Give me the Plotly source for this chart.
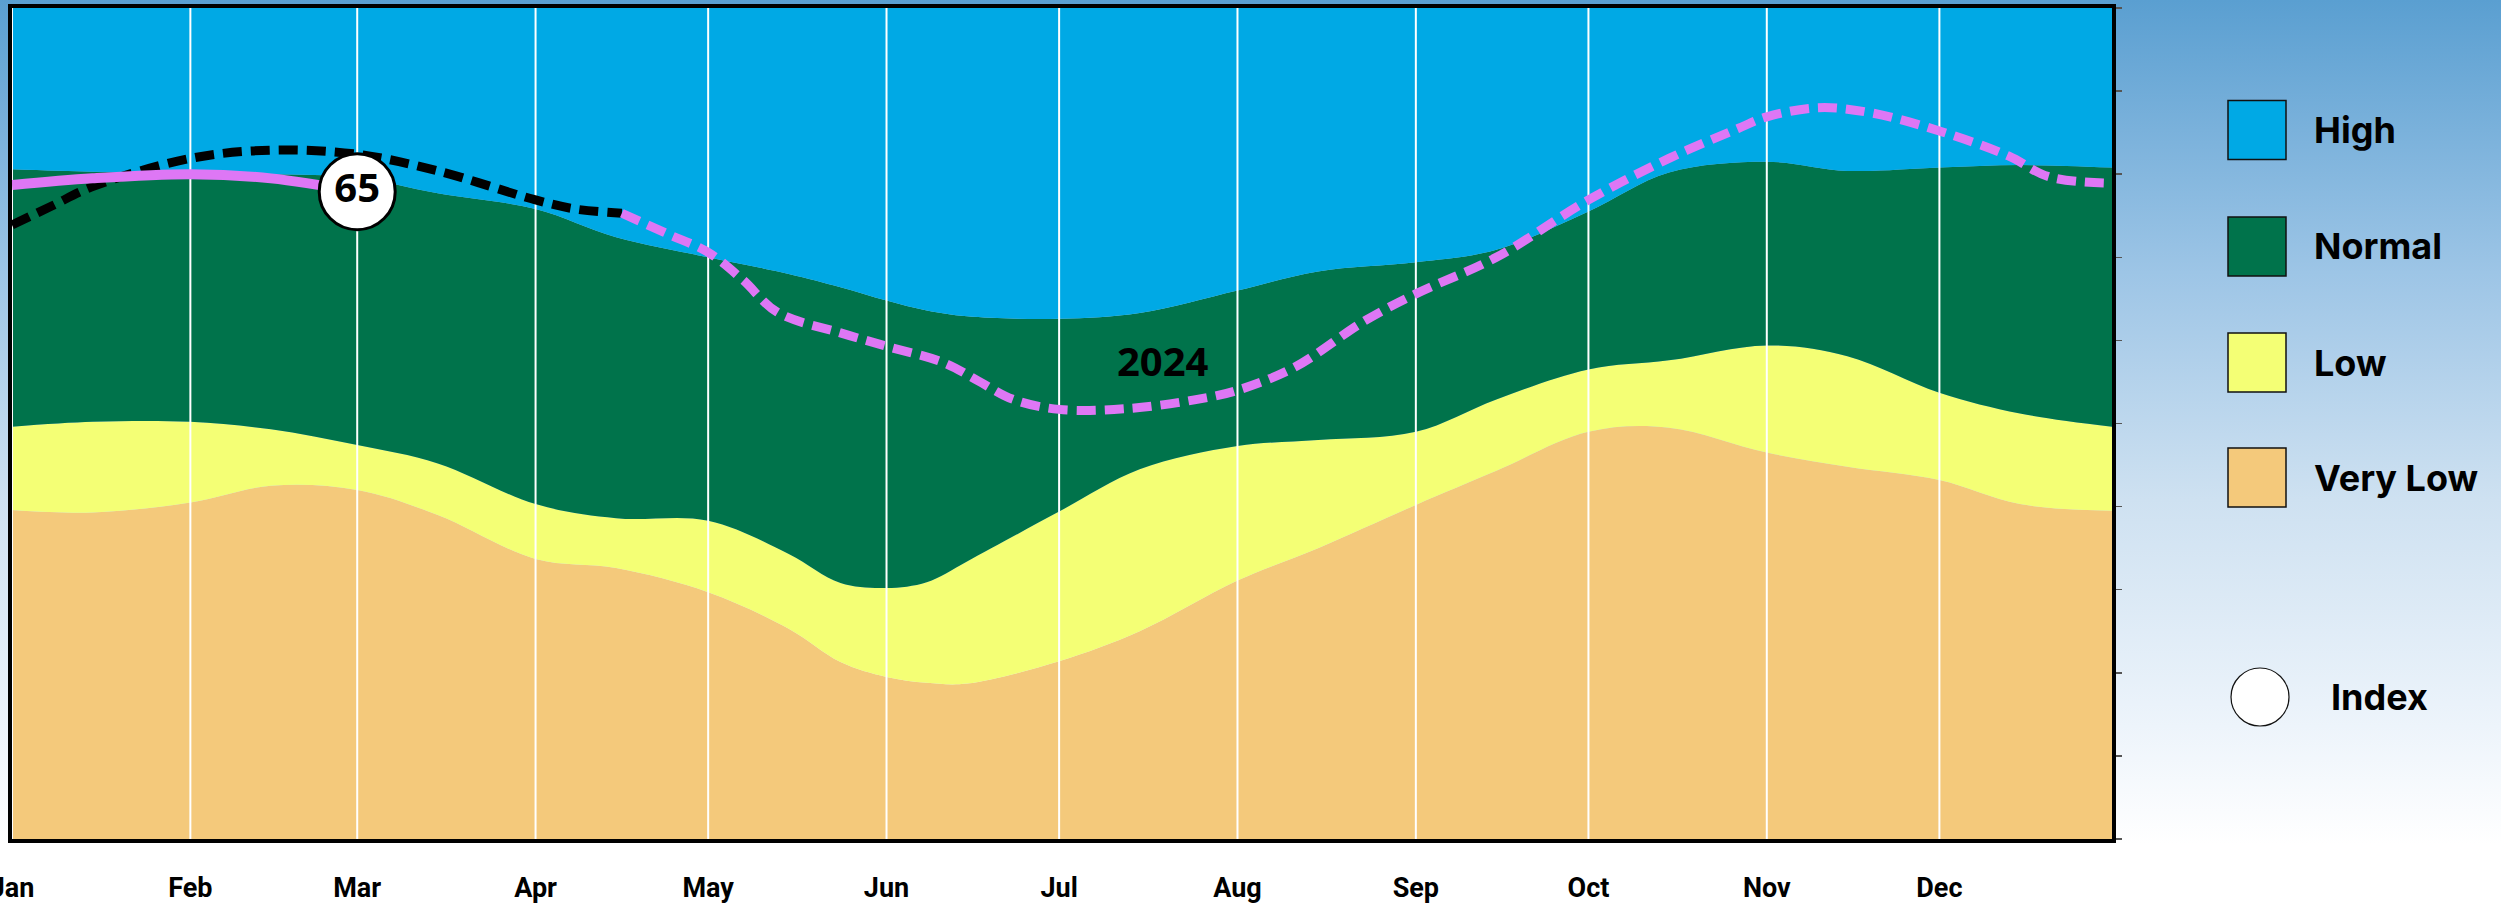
import base64
import plotly.graph_objects as go

# ---------------- data ----------------
band_dates = ["2024-01-01", "2024-01-15", "2024-02-01", "2024-02-15", "2024-03-01", "2024-03-15",
              "2024-04-01", "2024-04-15", "2024-05-01", "2024-05-15", "2024-05-24", "2024-06-01",
              "2024-06-08", "2024-06-15", "2024-07-01", "2024-07-15", "2024-08-01", "2024-08-15",
              "2024-09-01", "2024-09-15", "2024-10-01", "2024-10-15", "2024-11-01", "2024-11-15",
              "2024-12-01", "2024-12-15", "2024-12-31"]
very_low_top = [39.6, 39.3, 40.5, 42.5, 42.0, 39.0, 33.7, 32.6, 29.7, 25.3, 21.3, 19.5,
                18.8, 18.7, 21.4, 25.0, 31.1, 35.0, 40.2, 44.3, 49.0, 49.5, 46.5, 44.8,
                43.2, 40.3, 39.5]
low_top = [49.6, 50.2, 50.2, 49.3, 47.4, 45.2, 40.3, 38.6, 38.3, 34.3, 30.8, 30.2,
           30.9, 33.4, 39.4, 44.5, 47.3, 48.0, 49.0, 52.9, 56.5, 57.6, 59.4, 58.1,
           53.7, 51.2, 49.6]
normal_top = [80.6, 80.3, 80.1, 80.0, 79.6, 77.7, 75.8, 72.4, 70.0, 68.0, 66.4, 64.8,
              63.6, 62.9, 62.6, 63.3, 66.0, 68.3, 69.4, 70.9, 75.5, 80.2, 81.5, 80.4,
              80.8, 81.1, 80.8]
high_top = [100] * len(band_dates)

hist_dates = ["2024-01-01", "2024-01-08", "2024-01-15", "2024-02-01", "2024-02-15", "2024-03-01",
              "2024-03-15", "2024-04-01", "2024-04-08", "2024-04-16"]
hist_values = [73.9, 76.2, 78.5, 81.9, 82.9, 82.4, 80.4, 76.9, 75.8, 75.3]

actual_dates = ["2024-01-01", "2024-01-15", "2024-02-01", "2024-02-15", "2024-03-01"]
actual_values = [78.7, 79.5, 80.0, 79.5, 77.9]

fc_dates = ["2024-04-16", "2024-04-24", "2024-05-01", "2024-05-07", "2024-05-13", "2024-05-24",
            "2024-06-01", "2024-06-11", "2024-06-17", "2024-06-23", "2024-07-01", "2024-07-13",
            "2024-07-25", "2024-08-01", "2024-08-11", "2024-08-23", "2024-09-01", "2024-09-15",
            "2024-10-01", "2024-10-15", "2024-10-27", "2024-11-01", "2024-11-10", "2024-11-19",
            "2024-12-01", "2024-12-13", "2024-12-20", "2024-12-31"]
fc_values = [75.3, 72.8, 70.6, 67.3, 63.4, 60.9, 59.3, 57.3, 55.1, 52.9, 51.7, 51.8,
             52.9, 54.0, 56.8, 62.3, 65.6, 70.0, 76.9, 81.9, 85.5, 86.9, 88.0, 87.4,
             85.2, 82.2, 79.7, 78.9]

index_date = "2024-03-01"
index_value = 77.9
index_label = "65"

year_label = "2024"
year_label_date = "2024-07-19"
year_label_value = 57.6

month_starts = ["2024-01-01", "2024-02-01", "2024-03-01", "2024-04-01", "2024-05-01", "2024-06-01",
                "2024-07-01", "2024-08-01", "2024-09-01", "2024-10-01", "2024-11-01", "2024-12-01"]
month_names = ["Jan", "Feb", "Mar", "Apr", "May", "Jun", "Jul", "Aug", "Sep", "Oct", "Nov", "Dec"]

legend_labels = ["High", "Normal", "Low", "Very Low"]
index_legend_label = "Index"

# ---------------- styles ----------------
C_HIGH = "#00a9e5"
C_NORMAL = "#00734b"
C_LOW = "#f4ff75"
C_VLOW = "#f4c97b"
C_PINK = "#de77f5"
legend_colors = [C_HIGH, C_NORMAL, C_LOW, C_VLOW]

W, H = 2501, 908
ML, MR, MT, MB = 12, 389, 8, 69
PW = W - ML - MR
PH = H - MT - MB


def px_x(px):
    return (px - ML) / PW


def px_y(py):
    return (H - MB - py) / PH


fig = go.Figure()

# stacked bands
fig.add_trace(go.Scatter(x=band_dates, y=very_low_top, mode="lines", fill="tozeroy",
                         fillcolor=C_VLOW, line=dict(width=0, shape="spline", color=C_VLOW),
                         hoverinfo="skip", showlegend=False))
fig.add_trace(go.Scatter(x=band_dates, y=low_top, mode="lines", fill="tonexty",
                         fillcolor=C_LOW, line=dict(width=0, shape="spline", color=C_LOW),
                         hoverinfo="skip", showlegend=False))
fig.add_trace(go.Scatter(x=band_dates, y=normal_top, mode="lines", fill="tonexty",
                         fillcolor=C_NORMAL, line=dict(width=0, shape="spline", color=C_NORMAL),
                         hoverinfo="skip", showlegend=False))
fig.add_trace(go.Scatter(x=band_dates, y=high_top, mode="lines", fill="tonexty",
                         fillcolor=C_HIGH, line=dict(width=0, color=C_HIGH),
                         hoverinfo="skip", showlegend=False))

# white month gridlines (above fills, below lines)
gx, gy = [], []
for d in month_starts:
    gx += [d, d, None]
    gy += [0, 100, None]
fig.add_trace(go.Scatter(x=gx, y=gy, mode="lines", line=dict(color="white", width=2),
                         hoverinfo="skip", showlegend=False))

# lines
fig.add_trace(go.Scatter(x=hist_dates, y=hist_values, mode="lines",
                         line=dict(color="black", width=9, dash="19px,9px", shape="spline"),
                         hoverinfo="skip", showlegend=False))
fig.add_trace(go.Scatter(x=fc_dates, y=fc_values, mode="lines",
                         line=dict(color=C_PINK, width=9, dash="19px,9px", shape="spline"),
                         hoverinfo="skip", showlegend=False))
fig.add_trace(go.Scatter(x=actual_dates, y=actual_values, mode="lines",
                         line=dict(color=C_PINK, width=10, shape="spline"),
                         hoverinfo="skip", showlegend=False))

# index marker
fig.add_trace(go.Scatter(x=[index_date], y=[index_value], mode="markers+text",
                         marker=dict(size=76, color="white", line=dict(color="black", width=3)),
                         text=[index_label], textposition="middle center",
                         textfont=dict(family="Open Sans", size=40, color="black", weight="bold"),
                         hoverinfo="skip", showlegend=False))

annotations = [dict(x=year_label_date, y=year_label_value, xref="x", yref="y", text=year_label,
                    showarrow=False, font=dict(family="Open Sans", size=40, color="black", weight="bold"))]

shapes = []
# custom legend
box_centers = [130, 246.5, 362.5, 477.5]
for lab, col, cy in zip(legend_labels, legend_colors, box_centers):
    shapes.append(dict(type="rect", xref="paper", yref="paper",
                       x0=px_x(2228), x1=px_x(2286), y0=px_y(cy + 29.5), y1=px_y(cy - 29.5),
                       fillcolor=col, line=dict(color="#111111", width=1.5), layer="above"))
    annotations.append(dict(x=px_x(2312), y=px_y(cy), xref="paper", yref="paper", text=lab,
                            showarrow=False, xanchor="left", yanchor="middle",
                            font=dict(family="Inter", size=36, color="black", weight="bold")))
shapes.append(dict(type="circle", xref="paper", yref="paper",
                   x0=px_x(2231), x1=px_x(2289), y0=px_y(726), y1=px_y(668),
                   fillcolor="white", line=dict(color="#111111", width=1.2), layer="above"))
annotations.append(dict(x=px_x(2329), y=px_y(697), xref="paper", yref="paper", text=index_legend_label,
                        showarrow=False, xanchor="left", yanchor="middle",
                        font=dict(family="Inter", size=36, color="black", weight="bold")))

# background gradient as an svg image
svg = ('<svg xmlns="http://www.w3.org/2000/svg" width="100" height="100" preserveAspectRatio="none">'
       '<defs><linearGradient id="g" x1="0" y1="0" x2="0" y2="1">'
       '<stop offset="0" stop-color="#5a9fd1"/>'
       '<stop offset="0.3" stop-color="#9dc5e6"/>'
       '<stop offset="0.55" stop-color="#cee1f1"/>'
       '<stop offset="0.8" stop-color="#edf4fb"/>'
       '<stop offset="0.93" stop-color="#ffffff"/>'
       '<stop offset="1" stop-color="#ffffff"/>'
       '</linearGradient></defs><rect width="100" height="100" fill="url(#g)"/></svg>')
svg_uri = "data:image/svg+xml;base64," + base64.b64encode(svg.encode()).decode()

fig.update_layout(
    width=W, height=H,
    margin=dict(l=ML, r=MR, t=MT, b=MB, pad=0),
    paper_bgcolor="white",
    plot_bgcolor="rgba(0,0,0,0)",
    showlegend=False,
    annotations=annotations,
    shapes=shapes,
    images=[dict(source=svg_uri, xref="paper", yref="paper",
                 x=px_x(0), y=px_y(0), sizex=W / PW, sizey=H / PH,
                 xanchor="left", yanchor="top", sizing="stretch", layer="below")],
    xaxis=dict(type="date", range=["2024-01-01", "2024-12-31"], tickvals=month_starts,
               ticktext=month_names, showgrid=False, zeroline=False, ticks="",
               showline=True, linecolor="black", linewidth=4, mirror=True,
               tickfont=dict(family="Liberation Sans Narrow, Roboto, sans-serif", size=27,
                             color="black", weight="bold"),
               ticklabelstandoff=22, ticklabeloverflow="allow", automargin=False),
    yaxis=dict(range=[0, 100], side="right", dtick=10, tick0=0, showticklabels=False,
               ticks="outside", ticklen=6, tickwidth=1.5, tickcolor="#555555",
               showgrid=False, zeroline=False, showline=True, linecolor="black",
               linewidth=4, mirror=True, automargin=False),
)

fig.write_html("out.html", config={"displayModeBar": False, "staticPlot": True},
               post_script="document.body.style.margin='0';document.body.style.overflow='hidden';")
